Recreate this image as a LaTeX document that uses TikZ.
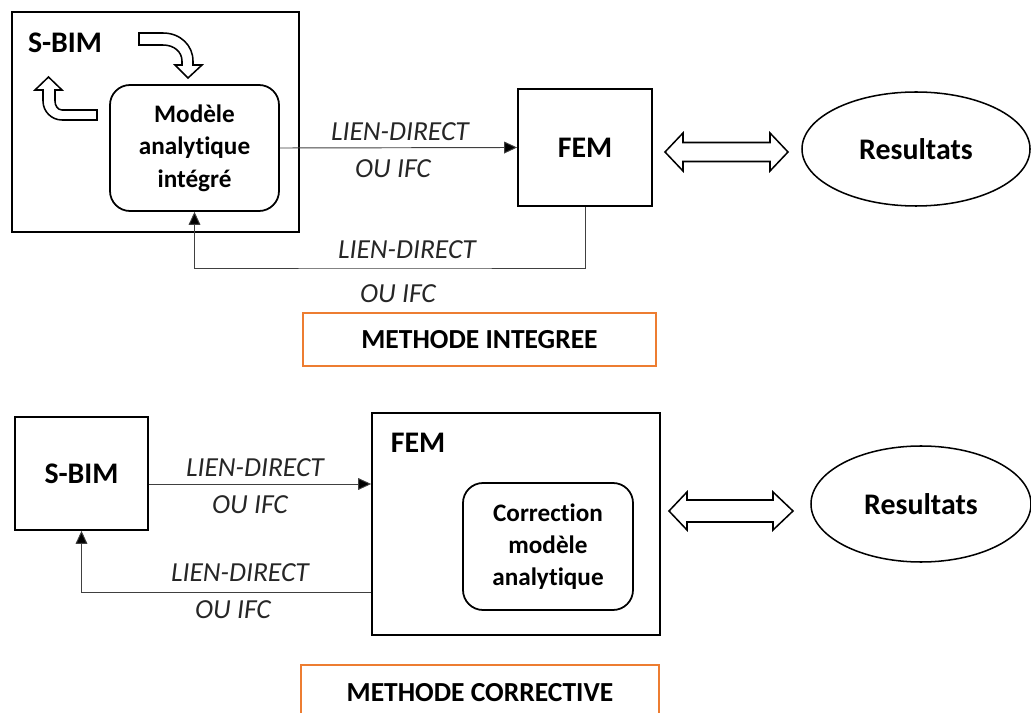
\documentclass[tikz,border=0pt]{standalone}
\usepackage{fontspec}
\setmainfont{Carlito}[Ligatures=NoCommon]
\usetikzlibrary{arrows.meta,calc,shapes.geometric}
\definecolor{orangeline}{RGB}{237,125,49}
\begin{document}
\begin{tikzpicture}[x=0.03cm,y=-0.03cm,
  box/.style={draw=black,line width=1.5pt,inner sep=0pt,fill=white,font=\fontsize{25.5}{30}\selectfont\bfseries},
  rbox/.style={draw=black,line width=1.5pt,inner sep=0pt,fill=white,rounded corners=0.6cm,align=center,font=\fontsize{21.5}{27.6}\selectfont\bfseries},
  ell/.style={ellipse,draw=black,line width=1.3pt,inner sep=0pt,font=\fontsize{25.5}{30}\selectfont\bfseries},
  obox/.style={draw=orangeline,line width=1.6pt,inner sep=0pt},
  otext/.style={font=\fontsize{23.5}{28}\selectfont\bfseries},
  ttl/.style={font=\fontsize{25.5}{30}\selectfont\bfseries},
  lab/.style={font=\fontsize{23.5}{28}\selectfont\itshape,text=black!85},
  conn/.style={draw=black!75,line width=0.8pt,-{Triangle[length=11pt,width=10pt,fill=black]}},
  dbl/.style={draw=black,line width=1.3pt,fill=white,line join=miter},
  blk/.style={draw=black,line width=1.3pt,fill=white,line join=miter}]
\useasboundingbox (0,0) rectangle (1031,713);
\clip (0,0) rectangle (1031,713);

% ---------- METHODE INTEGREE ----------
\node[box,minimum width=8.61cm,minimum height=6.6cm] (sbimA) at (155.5,122) {};
\node[ttl] (sbimAlab) at (65,43) {S-BIM};
\node[rbox,minimum width=5.07cm,minimum height=3.78cm] (modA) at (194.5,148) {Modèle\\analytique\\intégré};
\node[box,minimum width=4.02cm,minimum height=3.51cm] (femA) at (585,147.5) {FEM};
\node[ell,minimum width=6.84cm,minimum height=3.42cm] (resA) at (916,149) {Resultats};
\node[obox,minimum width=10.59cm,minimum height=1.59cm,otext] (methA) at (479.5,339.5) {METHODE INTEGREE};

% curved block arrows
\draw[blk] (139,33) -- (163,33) .. controls (180.5,33) and (193,45.5) .. (193,61) -- (193,65)
  -- (202,65) -- (188,78) -- (175,65) -- (182,65) -- (182,61)
  .. controls (182,52.2) and (174.4,45) .. (163,45) -- (139,45) -- cycle;
\draw[blk] (97,110) -- (62,110) .. controls (57.6,110) and (55,105.4) .. (55,101) -- (55,90)
  -- (62,90) -- (48.5,77) -- (35,90) -- (43,90) -- (43,101)
  .. controls (43,111.5) and (51.5,120) .. (62,120) -- (97,120) -- cycle;

\draw[conn] (modA.east) -- (femA.west);
\node[lab] (lA1) at (400,132) {LIEN-DIRECT};
\node[lab] (lA2) at (393,169) {OU IFC};
\coordinate (retA) at (400,268);
\draw[conn] (femA.south) |- (retA) -| (modA.south);
\node[lab] (lA3) at (407,250) {LIEN-DIRECT};
\node[lab] (lA4) at (398,294) {OU IFC};

\draw[dbl] (665,152) -- (683,133) -- (683,142.5) -- (770,142.5) -- (770,133) -- (788,152)
  -- (770,171) -- (770,161.5) -- (683,161.5) -- (683,171) -- cycle;

% ---------- METHODE CORRECTIVE ----------
\node[box,minimum width=3.99cm,minimum height=3.39cm] (sbimB) at (81.5,473.5) {S-BIM};
\node[box,minimum width=8.64cm,minimum height=6.66cm] (femB) at (516,524) {};
\node[ttl] (femBlab) at (418,443) {FEM};
\node[rbox,minimum width=5.1cm,minimum height=3.81cm] (corB) at (548,546.5) {Correction\\modèle\\analytique};
\node[ell,minimum width=6.6cm,minimum height=3.48cm] (resB) at (921,504) {Resultats};
\node[obox,minimum width=10.74cm,minimum height=1.92cm] (methB) at (480,697) {};
\node[otext] (methBlab) at (480,693) {METHODE CORRECTIVE};

\draw[conn] ($(sbimB.east)+(0,10.5)$) -- ($(femB.west)+(0,-40)$);
\node[lab] (lB1) at (255,468) {LIEN-DIRECT};
\node[lab] (lB2) at (250,505) {OU IFC};
\draw[conn] ($(femB.west)+(0,68)$) -| (sbimB.south);
\node[lab] (lB3) at (240,573) {LIEN-DIRECT};
\node[lab] (lB4) at (233,610) {OU IFC};

\draw[dbl] (669,511) -- (687,492) -- (687,500) -- (773,500) -- (773,492) -- (793,511)
  -- (773,530) -- (773,522) -- (687,522) -- (687,530) -- cycle;
\end{tikzpicture}
\end{document}
